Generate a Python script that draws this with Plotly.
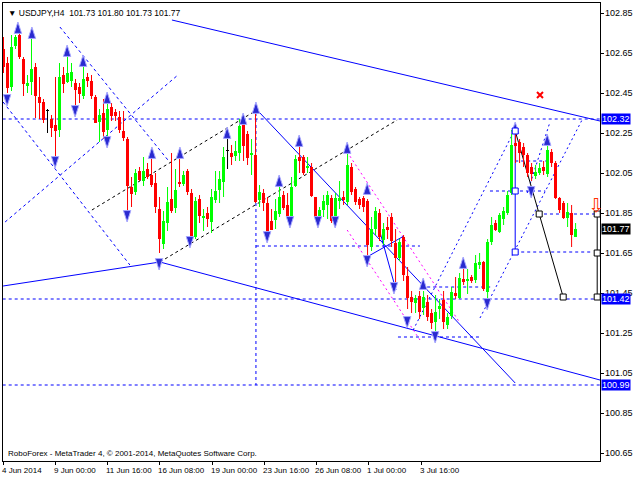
import plotly.graph_objects as go

# ---------------- data (H4 candles, bar index = position) ----------------
opens = [102.67,102.60,102.48,102.685,102.74,102.62,102.485,102.505,102.58,102.43,
         102.405,102.36,102.32,102.29,102.265,102.54,102.505,102.51,102.50,102.48,
         102.435,102.53,102.51,102.43,102.305,102.35,102.265,102.38,102.355,102.33,
         102.26,102.22,101.98,101.955,102.06,102.01,102.07,102.04,102.00,101.87,
         101.695,101.80,101.92,101.875,102.005,101.995,102.06,101.95,101.73,101.92,
         101.825,101.85,101.805,101.915,101.965,102.005,102.16,102.15,102.135,102.15,
         102.30,102.245,102.14,102.14,101.915,101.95,101.90,101.81,101.815,101.845,
         101.94,101.89,101.83,101.985,102.13,102.13,102.075,102.08,101.93,101.835,
         101.865,101.89,101.925,101.815,101.91,101.93,101.905,102.08,101.97,101.92,
         101.925,101.91,101.68,101.77,101.85,101.715,101.78,101.83,101.70,101.625,
         101.73,101.535,101.43,101.40,101.435,101.375,101.405,101.35,101.305,101.37,
         101.415,101.29,101.335,101.45,101.425,101.52,101.51,101.53,101.515,101.59,
         101.605,101.455,101.705,101.80,101.755,101.82,101.85,101.95,102.20,102.205,
         102.18,102.14,102.08,102.035,102.05,102.08,102.045,102.155,102.10,101.925,
         101.90,101.825,101.85,101.73]
highs = [102.73,102.63,102.74,102.74,102.755,102.63,102.54,102.74,102.60,102.53,
         102.42,102.37,102.34,102.53,102.60,102.58,102.65,102.60,102.52,102.50,
         102.60,102.55,102.54,102.44,102.37,102.42,102.42,102.40,102.37,102.36,
         102.36,102.23,102.03,102.07,102.08,102.13,102.10,102.13,102.05,101.93,
         101.86,101.98,102.15,102.07,102.13,102.06,102.07,101.97,101.93,101.94,
         101.87,101.88,101.97,102.06,102.06,102.18,102.22,102.19,102.21,102.32,
         102.32,102.26,102.22,102.36,101.99,101.97,101.93,101.87,101.92,101.99,
         101.96,101.95,102.03,102.14,102.19,102.14,102.13,102.10,101.93,101.88,
         101.94,101.96,101.94,101.95,102.01,101.96,102.165,102.10,101.98,101.93,
         101.935,101.92,101.83,101.88,101.87,101.80,101.83,101.85,101.77,101.72,
         101.74,101.58,101.46,101.44,101.46,101.46,101.44,101.37,101.44,101.42,
         101.46,101.35,101.48,101.53,101.55,101.585,101.57,101.54,101.64,101.65,
         101.61,101.72,101.83,101.815,101.85,101.88,101.96,102.265,102.25,102.22,
         102.20,102.15,102.10,102.09,102.10,102.11,102.21,102.17,102.11,101.93,
         101.91,101.90,101.89,101.80]
lows = [102.55,102.45,102.46,102.67,102.62,102.435,102.45,102.44,102.325,102.32,
        102.30,102.25,102.23,102.105,102.23,102.45,102.50,102.48,102.36,102.40,
        102.42,102.48,102.42,102.30,102.205,102.22,102.20,102.31,102.31,102.25,
        102.21,101.85,101.88,101.94,102.01,101.985,102.02,101.98,101.85,101.65,
        101.67,101.76,101.85,101.85,101.98,101.985,101.94,101.70,101.72,101.80,
        101.76,101.78,101.75,101.90,101.90,101.93,102.07,102.09,102.11,102.11,
        102.11,102.09,102.04,101.90,101.88,101.86,101.73,101.765,101.77,101.83,
        101.865,101.83,101.83,101.98,102.05,102.04,102.05,101.93,101.81,101.81,
        101.83,101.82,101.80,101.80,101.87,101.89,101.89,101.94,101.89,101.87,
        101.855,101.62,101.66,101.74,101.71,101.69,101.72,101.68,101.48,101.61,
        101.51,101.37,101.35,101.35,101.32,101.34,101.31,101.27,101.23,101.32,
        101.27,101.27,101.32,101.42,101.42,101.49,101.445,101.50,101.50,101.57,
        101.46,101.40,101.69,101.76,101.75,101.79,101.84,101.94,102.10,102.10,
        102.08,102.03,102.01,102.02,102.04,102.04,102.03,102.08,101.92,101.85,
        101.82,101.78,101.68,101.73]
closes = [102.58,102.475,102.68,102.73,102.63,102.495,102.50,102.57,102.435,102.40,
          102.315,102.36,102.275,102.26,102.53,102.495,102.55,102.555,102.465,102.445,
          102.52,102.51,102.435,102.30,102.34,102.255,102.37,102.335,102.335,102.265,
          102.225,101.985,101.945,102.05,102.015,102.06,102.03,101.99,101.88,101.72,
          101.81,101.905,101.86,101.965,101.995,102.04,101.955,101.72,101.91,101.835,
          101.835,101.82,101.93,101.96,102.02,102.13,102.16,102.13,102.16,102.285,
          102.185,102.125,102.15,101.905,101.955,101.90,101.755,101.765,101.86,101.93,
          101.875,101.835,101.98,102.12,102.11,102.05,102.085,101.935,101.83,101.865,
          101.91,101.94,101.81,101.925,101.925,101.915,102.09,101.955,101.905,101.89,
          101.88,101.69,101.77,101.86,101.73,101.77,101.765,101.71,101.625,101.705,
          101.54,101.425,101.405,101.425,101.355,101.43,101.33,101.30,101.355,101.385,
          101.305,101.33,101.455,101.435,101.525,101.505,101.52,101.51,101.60,101.605,
          101.47,101.705,101.79,101.765,101.84,101.86,101.94,102.19,102.185,102.15,
          102.14,102.05,102.045,102.055,102.075,102.06,102.165,102.10,101.925,101.865,
          101.825,101.855,101.74,101.77]

tick_pos = [0, 13, 26, 39, 52.25, 65.25, 78.25, 91.25, 104.5]
tick_text = ["4 Jun 2014", "9 Jun 00:00", "11 Jun 16:00", "16 Jun 08:00", "19 Jun 00:00",
             "23 Jun 16:00", "26 Jun 08:00", "1 Jul 00:00", "3 Jul 16:00"]
price_ticks = [102.85, 102.65, 102.45, 102.25, 102.05, 101.85, 101.65, 101.45, 101.25,
               101.05, 100.85, 100.65]

# fractal arrows (bar index, price)
up_arrows_x = [3.6, 7.1, 15.9, 19.9, 25.9, 37.1, 44.1, 55.9, 59.9, 63.1, 68.9, 73.9,
               85.9, 90.9, 104.9, 114.9, 127.9, 135.9]
up_arrows_y = [102.805, 102.78, 102.69, 102.64, 102.455, 102.18, 102.18, 102.28, 102.35,
               102.405, 102.04, 102.24, 102.205, 102.0, 101.525, 101.63, 102.305, 102.245]
dn_arrows_x = [0.9, 17.9, 12.9, 25.9, 30.9, 38.9, 46.6, 65.9, 71.6, 78.6, 82.9, 90.9,
               97.6, 100.9, 107.9, 120.9, 131.9]
dn_arrows_y = [102.385, 102.33, 102.075, 102.175, 101.805, 101.565, 101.675, 101.70,
               101.775, 101.775, 101.775, 101.58, 101.445, 101.275, 101.20, 101.365, 101.925]

# drawn objects: (x0, p0, x1, p1, colour, dash)
BLUE, BLACK, MAG = "#0000ff", "#000000", "#ff00ff"
DASH = "3px,3px"
drawn_lines = [
    (42.1, 102.815, 149.1, 102.31, BLUE, "solid"),
    (-0.2, 102.32, 149.2, 102.32, BLUE, DASH),
    (-0.2, 101.42, 149.2, 101.42, BLUE, DASH),
    (-0.2, 100.99, 149.2, 100.99, BLUE, DASH),
    (-0.1, 101.485, 39.1, 101.605, BLUE, "solid"),
    (39.1, 101.605, 149.1, 101.015, BLUE, "solid"),
    (63.4, 102.365, 127.9, 101.0, BLUE, "solid"),
    (63.1, 102.35, 63.1, 100.99, BLUE, DASH),
    (63.1, 101.685, 104.1, 101.685, BLUE, DASH),
    (-0.1, 102.405, 31.6, 101.59, BLUE, DASH),
    (14.1, 102.78, 41.1, 102.115, BLUE, DASH),
    (0.4, 101.805, 43.6, 102.54, BLUE, DASH),
    (22.1, 101.865, 62.1, 102.35, BLACK, "3px,3px"),
    (39.1, 101.605, 98.4, 102.315, BLACK, "3px,3px"),
    (85.9, 102.155, 114.1, 101.30, MAG, "2px,3px"),
    (85.9, 101.765, 104.1, 101.215, MAG, "2px,3px"),
    (90.4, 101.625, 100.1, 101.735, BLUE, "solid"),
    (94.1, 101.755, 98.1, 101.465, BLUE, "solid"),
    (98.6, 101.23, 119.1, 101.23, BLUE, DASH),
    (105.9, 101.48, 122.4, 101.48, BLUE, DASH),
    (121.6, 101.96, 135.4, 101.96, BLUE, DASH),
    (127.9, 101.655, 147.1, 101.655, BLUE, DASH),
    (127.9, 102.11, 136.6, 102.11, BLUE, DASH),
    (133.6, 101.845, 149.1, 101.845, BLUE, DASH),
    (119.1, 101.325, 144.6, 102.315, BLUE, "2px,3px"),
    (102.4, 101.265, 128.4, 102.29, BLUE, "2px,3px"),
    (130.9, 101.95, 136.6, 102.305, BLUE, "2px,3px"),
    (127.9, 102.26, 127.9, 101.655, BLUE, "solid"),
    (127.9, 102.26, 139.9, 101.43, BLACK, "solid"),
    (148.4, 101.845, 148.4, 101.43, BLACK, "solid"),
]
blue_sq_x = [127.9, 127.9, 127.9]
blue_sq_y = [102.26, 101.96, 101.655]
black_sq_x = [133.9, 139.9, 148.4, 148.4, 148.4]
black_sq_y = [101.845, 101.43, 101.845, 101.65, 101.43]

right_labels = [(102.32, "102.32", "#0000ff"), (101.77, "101.77", "#000000"),
                (101.42, "101.42", "#0000ff"), (100.99, "100.99", "#0000ff")]

# ---------------- figure ----------------
fig = go.Figure()
idx = list(range(len(opens)))
body_col, base, height = [], [], []
wick = {"#ff0000": ([], []), "#00ff00": ([], []), "#000000": ([], [])}
for i, (o, h, l, c) in enumerate(zip(opens, highs, lows, closes)):
    col = "#00ff00" if c > o else ("#ff0000" if c < o else "#000000")
    body_col.append(col)
    base.append(min(o, c))
    height.append(max(abs(c - o), 0.004))
    wx, wy = wick[col]
    wx += [i, i, None]
    wy += [l, h, None]

for x0, y0, x1, y1, col, dash in drawn_lines:
    fig.add_shape(type="line", xref="x", yref="y", x0=x0, y0=y0, x1=x1, y1=y1,
                  line=dict(color=col, width=1, dash=dash), layer="below")

for col, (wx, wy) in wick.items():
    fig.add_trace(go.Scatter(x=wx, y=wy, mode="lines", line=dict(color=col, width=1),
                             hoverinfo="skip", showlegend=False))
fig.add_trace(go.Bar(x=idx, y=height, base=base, width=0.75,
                     marker=dict(color=body_col, line=dict(width=0)), showlegend=False))

arrow_marker = dict(symbol="arrow", size=12, color="#2a2ad0", line=dict(color="#a8a8ff", width=1))
fig.add_trace(go.Scatter(x=up_arrows_x, y=up_arrows_y, mode="markers",
                         marker=dict(arrow_marker, angle=0), showlegend=False))
fig.add_trace(go.Scatter(x=dn_arrows_x, y=dn_arrows_y, mode="markers",
                         marker=dict(arrow_marker, angle=180), showlegend=False))
fig.add_trace(go.Scatter(x=blue_sq_x, y=blue_sq_y, mode="markers",
                         marker=dict(symbol="square", size=6, color="white",
                                     line=dict(color="#0000ff", width=1)), showlegend=False))
fig.add_trace(go.Scatter(x=black_sq_x, y=black_sq_y, mode="markers",
                         marker=dict(symbol="square", size=6, color="white",
                                     line=dict(color="#000000", width=1)), showlegend=False))
fig.add_trace(go.Scatter(x=[134.1], y=[102.44], mode="markers",
                         marker=dict(symbol="x-thin", size=6, line=dict(color="#ff0000", width=2)),
                         showlegend=False))
# hollow red "sell" arrow above the last level
fig.add_annotation(x=148.1, y=101.89, xref="x", yref="y", text="⇩", showarrow=False,
                   font=dict(family="DejaVu Sans", size=19, color="#ff3000"))

FONT = "Tahoma, Liberation Sans, Arial, sans-serif"
for p in price_ticks:
    fig.add_annotation(x=1, xref="paper", y=p, yref="y", xanchor="left", yanchor="middle",
                       xshift=4, text=f"{p:.2f}", showarrow=False, borderpad=0,
                       font=dict(family=FONT, size=9, color="black"))
for t, s in zip(tick_pos, tick_text):
    fig.add_annotation(x=t, xref="x", y=0, yref="paper", xanchor="left", yanchor="top",
                       xshift=-3, yshift=-4, text=s, showarrow=False, borderpad=0,
                       font=dict(family=FONT, size=8, color="black"))
for p, txt, col in right_labels:
    fig.add_annotation(x=1, xref="paper", y=p, yref="y", xanchor="left", yanchor="middle",
                       xshift=1, text=txt, showarrow=False, bgcolor=col, borderpad=0,
                       font=dict(family=FONT, size=9, color="white"))

fig.add_annotation(x=0, xref="paper", y=1, yref="paper", xanchor="left", yanchor="top",
                   xshift=3, yshift=-3, showarrow=False,
                   text="▼ USDJPY,H4  101.73 101.80 101.73 101.77",
                   font=dict(family=FONT, size=8.5, color="black"))
fig.add_annotation(x=0, xref="paper", y=0, yref="paper", xanchor="left", yanchor="bottom",
                   xshift=3, yshift=1, showarrow=False,
                   text="RoboForex - MetaTrader 4, © 2001-2014, MetaQuotes Software Corp.",
                   font=dict(family=FONT, size=8, color="black"))

fig.update_layout(
    width=640, height=480, margin=dict(l=3, r=40, t=3, b=19),
    paper_bgcolor="white", plot_bgcolor="white", bargap=0, showlegend=False,
    xaxis=dict(range=[-0.125, 149.1], showgrid=False, zeroline=False, showline=True,
               linecolor="black", linewidth=1, mirror=True, ticks="outside", ticklen=3,
               tickcolor="black", tickvals=tick_pos, showticklabels=False),
    yaxis=dict(range=[100.61, 102.90], side="right", showgrid=False, zeroline=False,
               showline=True, linecolor="black", linewidth=1, mirror=True, ticks="outside",
               ticklen=3, tickcolor="black", tickvals=price_ticks, showticklabels=False),
)
fig.write_html("out.html", config={"displayModeBar": False},
               post_script="document.body.style.margin='0px';")
